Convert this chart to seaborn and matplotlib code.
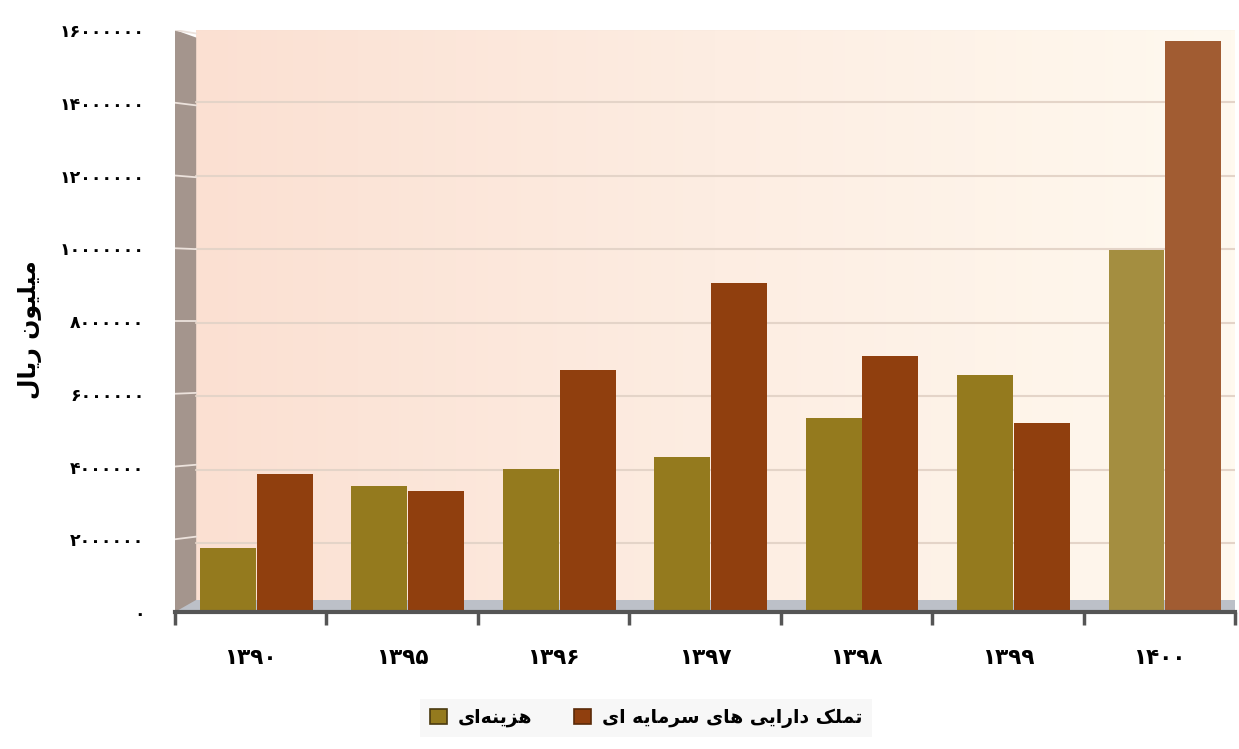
"""
Budget chart: current vs capital spending (million rials), 1390-1400.
"""
import numpy as np
import pandas as pd
import matplotlib
matplotlib.use("Agg")
import matplotlib.pyplot as plt
import matplotlib.colors as mcolors
import seaborn as sns
from matplotlib.patches import Polygon, Patch


# ==============================
# DATA
# ==============================
years = ["1390", "1395", "1396", "1397", "1398", "1399", "1400"]
current_cost = [1760000, 3460000, 3930000, 4260000, 5330000, 6520000, 9950000]
capital_assets = [3790000, 3330000, 6650000, 9040000, 7040000, 5200000, 15700000]
series_names = ["هزینه‌ای", "تملک دارایی های سرمایه ای"]
y_label = "میلیون ریال"
y_ticks = [0, 2000000, 4000000, 6000000, 8000000, 10000000, 12000000, 14000000, 16000000]

colors = ["#947A1E", "#903F0E"]


# ==============================
# PERSIAN TEXT HELPERS
# ==============================
# isolated, final, initial, medial presentation forms
FORMS = {
    "ا": ("\uFE8D", "\uFE8E", None, None),
    "د": ("\uFEA9", "\uFEAA", None, None),
    "ر": ("\uFEAD", "\uFEAE", None, None),
    "ز": ("\uFEAF", "\uFEB0", None, None),
    "و": ("\uFEED", "\uFEEE", None, None),
    "ت": ("\uFE95", "\uFE96", "\uFE97", "\uFE98"),
    "س": ("\uFEB1", "\uFEB2", "\uFEB3", "\uFEB4"),
    "ل": ("\uFEDD", "\uFEDE", "\uFEDF", "\uFEE0"),
    "م": ("\uFEE1", "\uFEE2", "\uFEE3", "\uFEE4"),
    "ن": ("\uFEE5", "\uFEE6", "\uFEE7", "\uFEE8"),
    "ه": ("\uFEE9", "\uFEEA", "\uFEEB", "\uFEEC"),
    "ی": ("\uFBFC", "\uFBFD", "\uFBFE", "\uFBFF"),
    "ک": ("\uFB8E", "\uFB8F", "\uFB90", "\uFB91"),
}


def fa(text):
    """Shape Persian letters and put them in visual (left-to-right) order."""
    out = []
    for i, c in enumerate(text):
        if c == "\u200c":
            continue
        if c not in FORMS:
            out.append(c)
            continue
        iso, fin, ini, med = FORMS[c]
        prev = text[i - 1] if i > 0 else None
        nxt = text[i + 1] if i + 1 < len(text) else None
        jp = prev in FORMS and FORMS[prev][2] is not None
        jn = ini is not None and nxt in FORMS
        if jp and jn:
            out.append(med)
        elif jp:
            out.append(fin)
        elif jn:
            out.append(ini)
        else:
            out.append(iso)
    return "".join(reversed(out))


def fa_num(s):
    return str(s).translate(str.maketrans("0123456789", "۰۱۲۳۴۵۶۷۸۹"))


# ==============================
# PLOT
# ==============================
df = pd.DataFrame({
    "year": years * 2,
    "value": current_cost + capital_assets,
    "series": [series_names[0]] * len(years) + [series_names[1]] * len(years),
})

sns.set_theme(style="white")
plt.rcParams["font.family"] = ["DejaVu Sans"]
plt.rcParams["text.color"] = "black"
plt.rcParams["xtick.color"] = "black"
plt.rcParams["ytick.color"] = "black"
plt.rcParams["axes.labelcolor"] = "black"

fig = plt.figure(figsize=(12.39, 7.49), dpi=100)
ax = fig.add_axes([175 / 1239, 1 - 612 / 749, 1060 / 1239, 582 / 749])

sns.barplot(data=df, x="year", y="value", hue="series", palette=colors,
            width=0.75, saturation=1, legend=False, ax=ax, zorder=3,
            linewidth=0)

# shift bars a little to the right (3D depth offset), lighter last pair
for p in ax.patches:
    p.set_x(p.get_x() + 0.04)
    p.set_width(p.get_width() - 0.006)
    cx = p.get_x() + p.get_width() / 2
    if cx > 5.5:
        c = np.array(mcolors.to_rgb(p.get_facecolor()))
        p.set_facecolor(c + (1 - c) * 0.15)

ax.set_xlim(-0.5, 6.5)
ax.set_ylim(0, 16000000)

# background gradient of the back wall
grad = np.linspace(0, 1, 256).reshape(1, -1)
cmap = mcolors.LinearSegmentedColormap.from_list("wall", ["#FBE0D2", "#FDEDE2", "#FFF9EF"])
ax.imshow(grad, extent=[0.02, 1, 0, 1], transform=ax.transAxes, aspect="auto",
          cmap=cmap, zorder=0)
ax.set_xlim(-0.5, 6.5)
ax.set_ylim(0, 16000000)

# left wall and floor
ax.add_patch(Polygon([[0, 0], [0.02, 0.014], [0.02, 0.987], [0, 1]], closed=True,
                     transform=ax.transAxes, facecolor="#A4958D", edgecolor="none", zorder=1))
ax.add_patch(Polygon([[0, 0], [1, 0], [1, 0.02], [0.02, 0.02]], closed=True,
                     transform=ax.transAxes, facecolor="#BCC0C8", edgecolor="none", zorder=1))
for v in y_ticks[1:]:
    yy = v / 16000000
    ax.plot([0, 0.02], [yy, yy - 0.006 + 0.02 * (1 - yy) * 0.6], transform=ax.transAxes,
            color="#ECE2DC", lw=1.3, zorder=2)
    ax.plot([0.02, 1], [yy - 0.01 * (1 - yy) + 0.002] * 2, transform=ax.transAxes,
            color="#E4D4C8", lw=1.5, zorder=1)

# axes styling
for s in ["top", "right", "left"]:
    ax.spines[s].set_visible(False)
ax.spines["bottom"].set_color("#555555")
ax.spines["bottom"].set_linewidth(3)
ax.spines["bottom"].set_zorder(4)

ax.set_yticks(y_ticks)
ax.set_yticklabels([fa_num(v) for v in y_ticks], fontsize=12.5, fontweight="bold")
ax.tick_params(axis="y", length=0, pad=22)

ax.set_xticks(range(len(years)))
ax.set_xticklabels([fa_num(y) for y in years], fontsize=15.5, fontweight="bold")
ax.tick_params(axis="x", which="major", length=0, pad=26)
ax.set_xticks(np.arange(-0.5, 7, 1), minor=True)
ax.tick_params(axis="x", which="minor", length=9, width=2.5, color="#555555",
               direction="out", bottom=True)

ax.set_xlabel("")
ax.set_ylabel("")
fig.text(30 / 1239, 1 - 330 / 749, fa(y_label), rotation=90, fontsize=17,
         fontweight="bold", ha="center", va="center")

handles = [Patch(facecolor=colors[0], edgecolor="#4a3a10", linewidth=1.2),
           Patch(facecolor=colors[1], edgecolor="#5a2a08", linewidth=1.2)]
leg = fig.legend(handles, [fa(n) for n in series_names], loc="center",
                 bbox_to_anchor=(646 / 1239, 1 - 718 / 749), ncol=2,
                 prop={"size": 13.5, "weight": "bold"}, frameon=True,
                 handlelength=0.9, handleheight=0.9, handletextpad=0.6,
                 columnspacing=2.2, borderpad=0.5, fancybox=False)
leg.get_frame().set_facecolor("#F5F5F5")
leg.get_frame().set_edgecolor("none")

fig.savefig("out.png", dpi=100, facecolor="white")
